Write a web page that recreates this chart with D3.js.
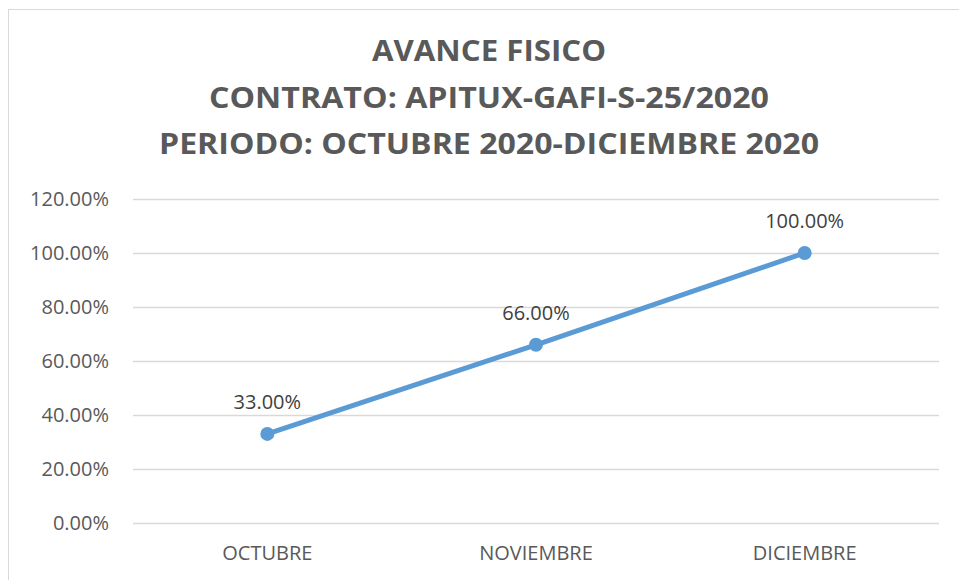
<!DOCTYPE html>
<html>
<head>
<meta charset="utf-8">
<script src="https://cdn.jsdelivr.net/npm/d3@7"></script>
<style>
  body { margin: 0; background: #fff; }
  text { font-family: 'Open Sans', sans-serif; }
</style>
</head>
<body>
<div id="chart"></div>
<script>
const titleLines = ['AVANCE FISICO', 'CONTRATO: APITUX-GAFI-S-25/2020', 'PERIODO: OCTUBRE 2020-DICIEMBRE 2020']
const months = ['OCTUBRE', 'NOVIEMBRE', 'DICIEMBRE']
const avance = [0.33, 0.66, 1.00]
const yTicks = [0, 0.2, 0.4, 0.6, 0.8, 1.0, 1.2]

const width = 959
const height = 580
const plot = { left: 133, right: 939, top: 199, bottom: 523 }
const labelSize = 20

const svg = d3.select('#chart').append('svg')
	.attr('width', width)
	.attr('height', height)

// chart border (only top and left visible in the crop)
svg.append('rect')
	.attr('x', 8.5).attr('y', 9.5)
	.attr('width', 970).attr('height', 600)
	.attr('fill', 'none')
	.attr('stroke', '#d9d9d9')

const x = d3.scaleBand()
	.domain(months)
	.range([plot.left, plot.right])

const y = d3.scaleLinear()
	.domain([0, 1.2])
	.range([plot.bottom, plot.top])

const fmt = d3.format('.2%')

// title
svg.append('g')
	.selectAll('text')
	.data(titleLines)
	.enter().append('text')
		.attr('x', 489)
		.attr('y', (d, i) => 61 + i * 46.5)
		.attr('text-anchor', 'middle')
		.attr('font-size', 29)
		.attr('font-weight', 'bold')
		.attr('fill', '#595959')
		.attr('textLength', (d, i) => [234, 560, 660][i])
		.attr('lengthAdjust', 'spacingAndGlyphs')
		.text(d => d)

// gridlines + y axis labels
const yAxis = svg.append('g')
	.attr('transform', `translate(${plot.left},0)`)
	.call(d3.axisLeft(y).tickValues(yTicks).tickFormat(fmt)
		.tickSize(-(plot.right - plot.left)).tickPadding(24))

yAxis.select('.domain').remove()
yAxis.selectAll('.tick line')
	.attr('stroke', '#d9d9d9')
	.attr('stroke-width', 1.5)
yAxis.selectAll('.tick text')
	.attr('font-size', labelSize)
	.attr('fill', '#595959')
	.attr('font-family', "'Open Sans', sans-serif")

// x axis labels
const xAxis = svg.append('g')
	.attr('transform', `translate(0,${plot.bottom})`)
	.call(d3.axisBottom(x).tickSize(0).tickPadding(23))

xAxis.select('.domain').remove()
xAxis.selectAll('.tick text')
	.attr('font-size', labelSize)
	.attr('fill', '#595959')
	.attr('font-family', "'Open Sans', sans-serif")

// series
const pts = months.map((m, i) => ({ m, v: avance[i] }))
const cx = d => x(d.m) + x.bandwidth() / 2

svg.append('path')
	.datum(pts)
	.attr('fill', 'none')
	.attr('stroke', '#5b9bd5')
	.attr('stroke-width', 5)
	.attr('stroke-linecap', 'round')
	.attr('d', d3.line().x(cx).y(d => y(d.v)))

svg.append('g')
	.selectAll('circle')
	.data(pts)
	.enter().append('circle')
		.attr('cx', cx)
		.attr('cy', d => y(d.v))
		.attr('r', 7)
		.attr('fill', '#5b9bd5')

svg.append('g')
	.selectAll('text')
	.data(pts)
	.enter().append('text')
		.attr('x', cx)
		.attr('y', d => y(d.v) - 25)
		.attr('text-anchor', 'middle')
		.attr('font-size', labelSize)
		.attr('fill', '#404040')
		.text(d => fmt(d.v))
</script>
</body>
</html>
